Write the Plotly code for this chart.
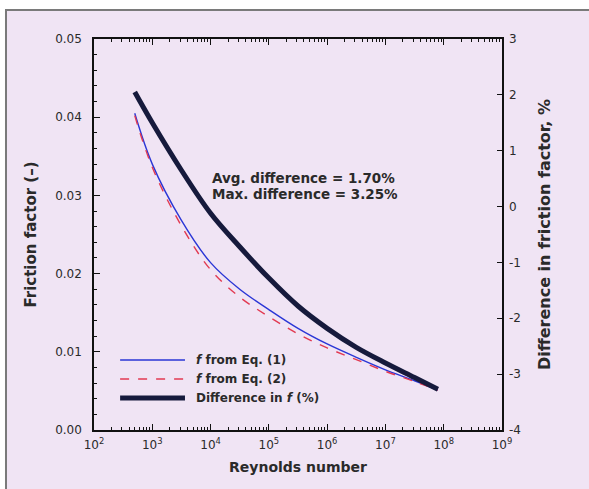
import plotly.graph_objects as go

# Reynolds numbers at which the curves are sampled
reynolds = [500, 1000, 3162, 10000, 31623, 100000, 316228, 1000000,
            3162278, 10000000, 31622777, 79432823]

# Friction factor from the two equations (left axis)
f_eq1 = [0.0405, 0.0340, 0.0268, 0.0214, 0.0180, 0.0154, 0.0130, 0.0110,
         0.0093, 0.0077, 0.0063, 0.0051]
f_eq2 = [0.0402, 0.0336, 0.0261, 0.0205, 0.0170, 0.0145, 0.0123, 0.0105,
         0.0090, 0.0075, 0.0062, 0.0051]

# Difference between the two friction factors, % (right axis)
diff_pct = [2.05, 1.50, 0.65, -0.12, -0.72, -1.28, -1.78, -2.18,
            -2.52, -2.80, -3.06, -3.27]

x_tick_vals = [1e2, 1e3, 1e4, 1e5, 1e6, 1e7, 1e8, 1e9]
x_tick_text = ["10<sup>2</sup>", "10<sup>3</sup>", "10<sup>4</sup>", "10<sup>5</sup>",
               "10<sup>6</sup>", "10<sup>7</sup>", "10<sup>8</sup>", "10<sup>9</sup>"]
y_tick_vals = [0.00, 0.01, 0.02, 0.03, 0.04, 0.05]
y_tick_text = ["0.00", "0.01", "0.02", "0.03", "0.04", "0.05"]
y2_tick_vals = [-4, -3, -2, -1, 0, 1, 2, 3]
y2_tick_text = ["-4", "-3", "-2", "-1", "0", "1", "2", "3"]

x_minor = [m * 10 ** e for e in range(2, 9) for m in range(2, 10)]

FONT = "DejaVu Sans, Verdana, sans-serif"
INK = "#2a2a2a"
BLUE = "#2a36d6"
RED = "#e23a52"
NAVY = "#161a3c"

fig = go.Figure()
fig.add_trace(go.Scatter(x=reynolds, y=f_eq1, mode="lines", line=dict(color=BLUE, width=1.4),
                         line_shape="spline", showlegend=False))
fig.add_trace(go.Scatter(x=reynolds, y=f_eq2, mode="lines",
                         line=dict(color=RED, width=1.4, dash="dash"),
                         line_shape="spline", showlegend=False))
fig.add_trace(go.Scatter(x=reynolds, y=diff_pct, mode="lines", yaxis="y2",
                         line=dict(color=NAVY, width=5), line_shape="spline",
                         showlegend=False))

# Hand-placed legend
legend_rows = [
    (BLUE, 1.4, "solid", "<i>f</i> from Eq. (1)"),
    (RED, 1.4, "dash", "<i>f</i> from Eq. (2)"),
    (NAVY, 5, "solid", "Difference in <i>f</i> (%)"),
]
shapes = []
annotations = []
for i, (col, w, dash, label) in enumerate(legend_rows):
    yy = 0.179 - i * 0.0485
    shapes.append(dict(type="line", xref="paper", yref="paper", x0=0.064, x1=0.223,
                       y0=yy, y1=yy, line=dict(color=col, width=w, dash=dash)))
    annotations.append(dict(xref="paper", yref="paper", x=0.245, y=yy, text=f"<b>{label}</b>",
                            showarrow=False, xanchor="left", yanchor="middle",
                            font=dict(family=FONT, size=12, color=INK)))

for k, txt in enumerate(["Avg. difference = 1.70%", "Max. difference = 3.25%"]):
    annotations.append(dict(xref="paper", yref="paper", x=0.285, y=0.645 - k * 0.042,
                            text=f"<b>{txt}</b>", showarrow=False,
                            xanchor="left", yanchor="middle",
                            font=dict(family=FONT, size=13.5, color=INK)))

# Outer panel frame and background
shapes.insert(0, dict(type="rect", xref="paper", yref="paper", layer="below",
                      x0=-0.2157, x1=1.4, y0=-0.3, y1=1.074,
                      fillcolor="#f0e4f4", line=dict(color="#7a7a7a", width=2)))

tick_font = dict(family=FONT, size=12, color=INK)

fig.update_layout(
    width=589, height=489,
    margin=dict(l=94, r=87, t=39, b=59),
    paper_bgcolor="white",
    plot_bgcolor="#d6f4ee",
    font=dict(family=FONT, size=12, color=INK),
    shapes=shapes,
    annotations=annotations,
    xaxis=dict(
        type="log", range=[2, 9], tickvals=x_tick_vals, ticktext=x_tick_text,
        ticks="inside", ticklen=6, tickwidth=1, tickcolor="#111",
        minor=dict(ticks="inside", ticklen=3.5, tickvals=x_minor, tickcolor="#111", showgrid=False),
        showline=True, linecolor="#111", linewidth=1.5, mirror="ticks",
        showgrid=False, zeroline=False, ticklabelstandoff=3,
        title=dict(text="<b>Reynolds number</b>", font=dict(family=FONT, size=14, color=INK),
                   standoff=11),
        tickfont=tick_font,
    ),
    yaxis=dict(
        range=[0, 0.05], tickvals=y_tick_vals, ticktext=y_tick_text,
        ticks="inside", ticklen=6, tickcolor="#111",
        minor=dict(ticks="inside", ticklen=3.5, dtick=0.002, tickcolor="#111", showgrid=False),
        showline=True, linecolor="#111", linewidth=1.5, mirror=True,
        showgrid=False, zeroline=False, ticklabelstandoff=8,
        title=dict(text="<b>Friction factor (–)</b>", font=dict(family=FONT, size=15, color=INK),
                   standoff=15),
        tickfont=tick_font,
    ),
    yaxis2=dict(
        overlaying="y", side="right", range=[-4, 3],
        tickvals=y2_tick_vals, ticktext=y2_tick_text,
        ticks="inside", ticklen=5, tickcolor="#111",
        showline=False, showgrid=False, zeroline=False, ticklabelstandoff=6,
        title=dict(text="<b>Difference in friction factor, %</b>",
                   font=dict(family=FONT, size=16, color=INK), standoff=18),
        tickfont=tick_font,
    ),
)

fig.write_html("out.html")
